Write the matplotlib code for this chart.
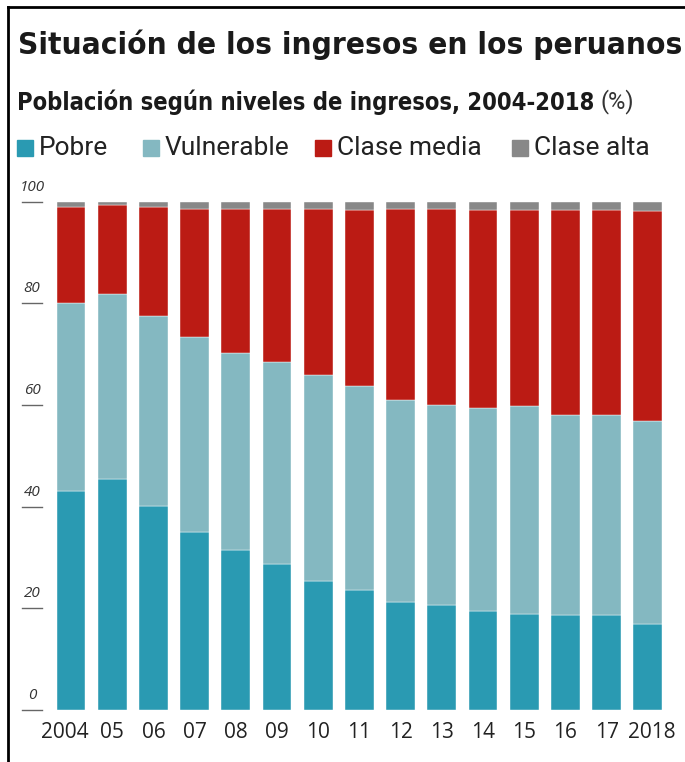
import matplotlib.pyplot as plt
from matplotlib.patches import Rectangle
from matplotlib.lines import Line2D
import matplotlib.transforms as mtransforms

years = ['2004', '05', '06', '07', '08', '09', '10', '11', '12', '13', '14', '15', '16', '17', '2018']
pobre = [43.1, 45.4, 40.1, 35.1, 31.4, 28.8, 25.4, 23.7, 21.3, 20.7, 19.5, 18.9, 18.6, 18.6, 16.9]
vulnerable = [36.9, 36.4, 37.5, 38.2, 38.9, 39.7, 40.6, 40.0, 39.7, 39.3, 39.9, 40.9, 39.5, 39.5, 40.0]
clase_media = [19.0, 17.5, 21.3, 25.3, 28.3, 30.0, 32.6, 34.7, 37.5, 38.5, 39.0, 38.5, 40.2, 40.2, 41.3]
clase_alta = [1.0, 0.7, 1.1, 1.4, 1.4, 1.5, 1.4, 1.6, 1.5, 1.5, 1.6, 1.7, 1.7, 1.7, 1.8]
series_names = ['Pobre', 'Vulnerable', 'Clase media', 'Clase alta']
yticks = [0, 20, 40, 60, 80, 100]

colors = ['#2a9ab2', '#84b8c1', '#bb1b14', '#888888']
W, H = 685, 762

fig = plt.figure(figsize=(W / 100, H / 100), dpi=100)
ax = fig.add_axes([22 / W, (H - 710) / H, 663 / W, (710 - 201.7) / H])

x = list(range(len(years)))
bottom = [0] * len(years)
for vals, c in zip([pobre, vulnerable, clase_media, clase_alta], colors):
    ax.bar(x, vals, bottom=bottom, width=0.70, color=c, edgecolor='white', linewidth=0.3)
    bottom = [b + v for b, v in zip(bottom, vals)]

ax.set_xlim((22 - 71) / 41.2, (685 - 71) / 41.2)
ax.set_ylim(0, 100)
for s in ax.spines.values():
    s.set_visible(False)

ax.set_xticks(x)
ax.set_xticklabels(years, fontsize=15, color='#222222', family='Open Sans')
ax.tick_params(axis='x', length=0, pad=9)
ax.set_yticks([])
# the first and last year labels sit slightly outward in the original
lbls = ax.get_xticklabels()
lbls[0].set_transform(lbls[0].get_transform() + mtransforms.Affine2D().translate(-6, 0))
lbls[-1].set_transform(lbls[-1].get_transform() + mtransforms.Affine2D().translate(4, 0))

# y tick marks: short lines with the label above them
trans = ax.get_yaxis_transform()
for v in yticks:
    ax.add_line(Line2D([0, 20 / 663], [v, v], transform=trans, color='#666666',
                       linewidth=1, clip_on=False))
    off = mtransforms.offset_copy(trans, fig=fig, x=0, y=7, units='dots')
    ax.text(10 / 663, v, str(v), transform=off, ha='center', va='bottom',
            fontsize=11, style='italic', color='#333333', family='Open Sans')


def fit(txt, target):
    # scale the font so the text spans the target width in pixels
    fig.canvas.draw()
    w = txt.get_window_extent().width
    txt.set_fontsize(txt.get_fontsize() * target / w)


title = fig.text(18 / W, 1 - 45 / H, 'Situación de los ingresos en los peruanos',
                 fontsize=21, fontweight='bold', family='DejaVu Sans', fontstretch='condensed',
                 color='#1a1a1a', va='center')
fit(title, 662)
sub = fig.text(17 / W, 1 - 102 / H, 'Población según niveles de ingresos, 2004-2018',
               fontsize=16, fontweight='bold', family='DejaVu Sans', fontstretch='condensed',
               color='#1a1a1a', va='center')
fit(sub, 580)
fig.canvas.draw()
bb = sub.get_window_extent()
fig.text((bb.x1 + 6) / W, 1 - 102 / H, '(%)', fontsize=17, family='Roboto',
         color='#333333', va='center')

# legend
leg_x = [17, 143, 315, 512]
for lx, name, c in zip(leg_x, series_names, colors):
    fig.add_artist(Rectangle((lx / W, 1 - 156 / H), 16 / W, 16 / H, color=c,
                             transform=fig.transFigure))
    fig.text((lx + 22) / W, 1 - 148 / H, name, fontsize=19, family='Roboto',
             color='#222222', va='center')

# frame lines (top and left)
fig.add_artist(Line2D([8 / W, 1], [1 - 7 / H, 1 - 7 / H], color='black', linewidth=2,
                      transform=fig.transFigure))
fig.add_artist(Line2D([8 / W, 8 / W], [0, 1 - 7 / H], color='black', linewidth=2,
                      transform=fig.transFigure))

fig.savefig('out.png', dpi=100)
